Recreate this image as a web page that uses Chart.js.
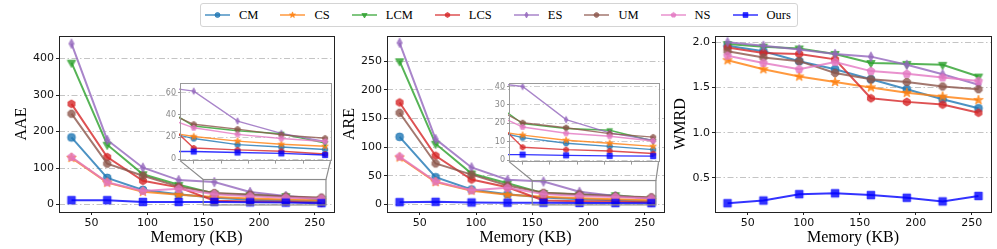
<!DOCTYPE html>
<html lang="en">
<head>
<meta charset="UTF-8">
<title>Error vs memory</title>
<script src="https://cdn.jsdelivr.net/npm/chart.js"></script>
<style>
    body { margin: 0; width: 997px; height: 249px; background: #fff; position: relative; overflow: hidden; }
    canvas.panel { position: absolute; }
    .legend {
        position: absolute; left: 200px; top: 3px; height: 24px; box-sizing: border-box;
        border: 1px solid #d4d4d4; border-radius: 3px; display: flex; align-items: center;
        padding: 0 6px 0 4px; font-family: "Liberation Serif", serif; font-size: 12.5px; color: #000;
    }
    .legend .item { display: flex; align-items: center; margin-right: 22px; }
    .legend .item:last-child { margin-right: 0; }
    .legend canvas { margin-right: 9px; }
</style>
</head>
<body>
<div class="legend" id="legend"></div>

<script>
// x values and tick labels
const memory = [32, 64, 96, 128, 160, 192, 224, 256];
const memoryTicks = [50, 100, 150, 200, 250];
const aaeTicks = [0, 100, 200, 300, 400];
const areTicks = [0, 50, 100, 150, 200, 250];
const wmrdTicks = [0.5, 1.0, 1.5, 2.0];
const insetAaeTicks = [0, 20, 40, 60];
const insetAreTicks = [0, 10, 20, 30, 40];
const insetXTicks = [160, 180, 200, 220, 240, 260];

const seriesNames = ['CM', 'CS', 'LCM', 'LCS', 'ES', 'UM', 'NS', 'Ours'];
const seriesColors = ['#1f77b4', '#ff7f0e', '#2ca02c', '#d62728', '#9467bd', '#8c564b', '#e377c2', '#0000ff'];
const seriesMarkers = ['circle', 'star', 'triDown', 'hexagon', 'thinDiamond', 'octagon', 'pentagon', 'square'];

// AAE
const aaeCM   = [184, 73, 40, 28, 18.7, 13.2, 11.1, 8.8];
const aaeCS   = [128, 60, 35, 27, 20.5, 16.4, 13.5, 11.7];
const aaeLCM  = [389, 164, 83, 54, 30, 25.8, 23, 14.6];
const aaeLCS  = [276, 130, 65, 47, 10.2, 8.5, 7.3, 4.7];
const aaeES   = [441, 177, 101, 67, 61.5, 34.5, 23.4, 16.1];
const aaeUM   = [249, 112, 79, 49, 31.6, 27.2, 22, 19];
const aaeNS   = [130, 61, 37, 43, 28.4, 22.5, 18.7, 16];
const aaeOurs = [12, 12, 7, 7, 7, 6.1, 5.3, 3.8];

// ARE
const areCM   = [118, 47.5, 26, 17.7, 12.2, 9.2, 7.5, 5.7];
const areCS   = [82, 39, 24, 17, 13.6, 10.8, 9.2, 7.5];
const areLCM  = [250, 106, 54, 37, 19.8, 17.2, 16.2, 10.4];
const areLCS  = [178, 85, 43.5, 30, 7, 5.7, 5, 3.6];
const areES   = [282, 114, 64.6, 43, 40, 22, 14.8, 10.8];
const areUM   = [160, 71.5, 52, 33, 20.3, 17.6, 14.4, 12.5];
const areNS   = [83.5, 40, 24.6, 29, 18, 14.6, 13, 10.4];
const areOurs = [4, 4.5, 3.4, 3, 3, 2.6, 2.3, 2.2];

// WMRD
const wmrdCM   = [1.96, 1.90, 1.79, 1.70, 1.59, 1.48, 1.37, 1.27];
const wmrdCS   = [1.80, 1.70, 1.62, 1.56, 1.50, 1.44, 1.40, 1.36];
const wmrdLCM  = [1.98, 1.95, 1.93, 1.87, 1.77, 1.76, 1.75, 1.62];
const wmrdLCS  = [1.94, 1.88, 1.87, 1.81, 1.38, 1.34, 1.31, 1.22];
const wmrdES   = [2.00, 1.96, 1.92, 1.87, 1.84, 1.75, 1.645, 1.53];
const wmrdUM   = [1.90, 1.83, 1.79, 1.66, 1.59, 1.56, 1.51, 1.48];
const wmrdNS   = [1.85, 1.77, 1.70, 1.78, 1.68, 1.65, 1.61, 1.57];
const wmrdOurs = [0.22, 0.25, 0.32, 0.33, 0.31, 0.28, 0.24, 0.30];

const tickFont = { family: 'DejaVu Sans', size: 11 };
const insetTickFont = { family: 'DejaVu Sans', size: 8 };
const titleFont = { family: 'Liberation Serif', size: 16, lineHeight: 1 };
const gridDash = [6, 2.5, 1.5, 2.5];

function rgba(hex, a) {
    const n = parseInt(hex.slice(1), 16);
    return 'rgba(' + (n >> 16) + ',' + ((n >> 8) & 255) + ',' + (n & 255) + ',' + a + ')';
}

function markerPath(ctx, shape, cx, cy, s) {
    const r = s / 2;
    const poly = (n, rot, rr) => {
        for (let k = 0; k < n; k++) {
            const t = rot + k * 2 * Math.PI / n;
            const px = cx + rr * Math.cos(t), py = cy + rr * Math.sin(t);
            if (k) ctx.lineTo(px, py); else ctx.moveTo(px, py);
        }
        ctx.closePath();
    };
    ctx.beginPath();
    switch (shape) {
        case 'circle': ctx.arc(cx, cy, r, 0, 2 * Math.PI); break;
        case 'square': ctx.rect(cx - r * 0.95, cy - r * 0.95, r * 1.9, r * 1.9); break;
        case 'triDown': poly(3, Math.PI / 2, r * 1.2); break;
        case 'hexagon': poly(6, -Math.PI / 2, r); break;
        case 'octagon': poly(8, Math.PI / 8, r); break;
        case 'pentagon': poly(5, -Math.PI / 2, r * 1.05); break;
        case 'thinDiamond':
            ctx.moveTo(cx, cy - r * 1.2); ctx.lineTo(cx + r * 0.65, cy);
            ctx.lineTo(cx, cy + r * 1.2); ctx.lineTo(cx - r * 0.65, cy); ctx.closePath();
            break;
        case 'star':
            for (let k = 0; k < 10; k++) {
                const t = -Math.PI / 2 + k * Math.PI / 5;
                const rr = k % 2 ? r * 0.5 : r * 1.25;
                const px = cx + rr * Math.cos(t), py = cy + rr * Math.sin(t);
                if (k) ctx.lineTo(px, py); else ctx.moveTo(px, py);
            }
            ctx.closePath();
            break;
    }
}

function drawMarker(ctx, shape, color, cx, cy, s) {
    markerPath(ctx, shape, cx, cy, s);
    ctx.fillStyle = rgba(color, 0.8);
    ctx.fill();
    ctx.lineWidth = 0.8;
    ctx.strokeStyle = rgba(color, 0.85);
    ctx.stroke();
}

function markerCanvas(shape, color, s) {
    const c = document.createElement('canvas');
    const w = Math.ceil(s * 1.4) + 2;
    c.width = w; c.height = w;
    drawMarker(c.getContext('2d'), shape, color, w / 2, w / 2, s);
    return c;
}

// legend
const legendEl = document.getElementById('legend');
seriesNames.forEach((name, i) => {
    const item = document.createElement('div');
    item.className = 'item';
    const h = document.createElement('canvas');
    h.width = 25; h.height = 12;
    const hc = h.getContext('2d');
    hc.strokeStyle = rgba(seriesColors[i], 0.8);
    hc.lineWidth = 1.5;
    hc.beginPath(); hc.moveTo(0, 6); hc.lineTo(25, 6); hc.stroke();
    drawMarker(hc, seriesMarkers[i], seriesColors[i], 12.5, 6, 5);
    const t = document.createElement('span');
    t.textContent = name;
    item.appendChild(h); item.appendChild(t);
    legendEl.appendChild(item);
});

function zeroPad(s) { s.paddingTop = 0; s.paddingBottom = 0; s.paddingLeft = 0; s.paddingRight = 0; }

function makeDatasets(values, inset) {
    return seriesNames.map((name, i) => ({
        label: name,
        data: memory.map((m, j) => ({ x: m, y: values[i][j] })),
        borderColor: rgba(seriesColors[i], 0.8),
        backgroundColor: rgba(seriesColors[i], 0.8),
        borderWidth: inset ? 1.4 : 2,
        pointStyle: markerCanvas(seriesMarkers[i], seriesColors[i], inset ? 5.5 : 8),
        pointRadius: 4,
        tension: 0,
        fill: false,
        order: seriesNames.length - i,
        clip: inset ? 1 : 6
    }));
}

function framePlugin(color, fillArea) {
    return {
        id: 'frame',
        beforeDraw(chart) {
            if (fillArea) {
                const a = chart.chartArea;
                chart.ctx.save();
                chart.ctx.fillStyle = '#fff';
                chart.ctx.fillRect(a.left, a.top, a.right - a.left, a.bottom - a.top);
                chart.ctx.restore();
            }
        },
        afterDraw(chart) {
            const a = chart.chartArea, ctx = chart.ctx;
            ctx.save();
            ctx.strokeStyle = color;
            ctx.lineWidth = 1;
            ctx.strokeRect(Math.round(a.left) + 0.5, Math.round(a.top) + 0.5,
                Math.round(a.right - a.left), Math.round(a.bottom - a.top));
            ctx.restore();
        }
    };
}

function insetMarkPlugin(inset, dx, dy) {
    return {
        id: 'insetMark',
        afterDraw(chart) {
            const xs = chart.scales.x, ys = chart.scales.y;
            const ix = inset.scales.x, iy = inset.scales.y, ia = inset.chartArea;
            const x0 = xs.getPixelForValue(ix.min), x1 = xs.getPixelForValue(ix.max);
            const y0 = ys.getPixelForValue(iy.max), y1 = ys.getPixelForValue(iy.min);
            const ctx = chart.ctx;
            ctx.save();
            ctx.strokeStyle = '#8c8c8c';
            ctx.lineWidth = 1.2;
            ctx.strokeRect(x0, y0, x1 - x0, y1 - y0);
            ctx.beginPath();
            ctx.moveTo(ia.left + dx, ia.bottom + dy); ctx.lineTo(x0, y0);
            ctx.moveTo(ia.right + dx, ia.bottom + dy); ctx.lineTo(x1, y0);
            ctx.stroke();
            ctx.restore();
        }
    };
}

function placeCanvas(left, top, w, h) {
    const c = document.createElement('canvas');
    c.className = 'panel';
    c.width = w; c.height = h;
    c.style.left = left + 'px'; c.style.top = top + 'px';
    c.style.width = w + 'px'; c.style.height = h + 'px';
    document.body.appendChild(c);
    return c;
}

const panels = [
    { title: 'AAE', values: [aaeCM, aaeCS, aaeLCM, aaeLCS, aaeES, aaeUM, aaeNS, aaeOurs],
      left: 0, width: 340, yWidth: 59, padRight: 6, titlePad: 13.5, yMin: -20.5, yMax: 462, yTicks: aaeTicks,
      inset: { left: 158, top: 78, width: 178, height: 88, yMin: -1.2, yMax: 68.5, yTicks: insetAaeTicks } },
    { title: 'ARE', values: [areCM, areCS, areLCM, areLCS, areES, areUM, areNS, areOurs],
      left: 330, width: 340, yWidth: 57, padRight: 6, titlePad: 11.5, yMin: -13.2, yMax: 294, yTicks: areTicks,
      inset: { left: 487, top: 78, width: 177, height: 89, yMin: -0.8, yMax: 41.7, yTicks: insetAreTicks } },
    { title: 'WMRD', values: [wmrdCM, wmrdCS, wmrdLCM, wmrdLCS, wmrdES, wmrdUM, wmrdNS, wmrdOurs],
      left: 660, width: 337, yWidth: 55, padRight: 4, titlePad: 12.5, yMin: 0.123, yMax: 2.068, yTicks: wmrdTicks,
      fmt: v => v.toFixed(1) }
];

const mainTop = 30, mainHeight = 219;

panels.forEach(p => {
    const mainCanvas = placeCanvas(p.left, mainTop, p.width, mainHeight);
    let insetChart = null;
    if (p.inset) {
        const q = p.inset;
        const ic = placeCanvas(q.left, q.top, q.width, q.height);
        insetChart = new Chart(ic.getContext('2d'), {
            type: 'line',
            data: { datasets: makeDatasets(p.values, true) },
            options: {
                responsive: false, animation: false, events: [], devicePixelRatio: 1,
                layout: { padding: { top: 4, right: 3, left: 0, bottom: 0 } },
                plugins: { legend: { display: false }, tooltip: { enabled: false } },
                scales: {
                    x: {
                        type: 'linear', min: 150, max: 260,
                        afterBuildTicks: s => { s.ticks = insetXTicks.map(v => ({ value: v })); },
                        afterFit: s => { s.height = 5; zeroPad(s); },
                        grid: { drawOnChartArea: false, drawTicks: true, tickLength: 3, tickColor: '#999' },
                        border: { display: false },
                        ticks: { display: false }
                    },
                    y: {
                        type: 'linear', min: q.yMin, max: q.yMax,
                        afterBuildTicks: s => { s.ticks = q.yTicks.map(v => ({ value: v })); },
                        afterFit: s => { s.width = 22; zeroPad(s); },
                        grid: { color: '#cfcfcf', lineWidth: 1, tickLength: 2, tickColor: '#999', tickBorderDash: [] },
                        border: { display: false, dash: gridDash },
                        ticks: { font: insetTickFont, color: '#888', padding: 2 }
                    }
                }
            },
            plugins: [framePlugin('#999', true)]
        });
    }

    const plugins = [framePlugin('#222', false)];
    if (insetChart) plugins.push(insetMarkPlugin(insetChart, p.inset.left - p.left, p.inset.top - mainTop));

    new Chart(mainCanvas.getContext('2d'), {
        type: 'line',
        data: { datasets: makeDatasets(p.values, false) },
        options: {
            responsive: false, animation: false, events: [], devicePixelRatio: 1,
            layout: { padding: { top: 2, right: p.padRight, left: 0, bottom: 0 } },
            plugins: { legend: { display: false }, tooltip: { enabled: false } },
            scales: {
                x: {
                    type: 'linear', min: 20.8, max: 267.2,
                    afterBuildTicks: s => { s.ticks = memoryTicks.map(v => ({ value: v })); },
                    afterFit: s => { s.height = 37; zeroPad(s); },
                    grid: { drawOnChartArea: false, drawTicks: true, tickLength: 3, tickColor: '#222' },
                    border: { display: false },
                    ticks: { font: tickFont, color: '#111', padding: 2, maxRotation: 0 },
                    title: { display: true, text: 'Memory (KB)', font: titleFont, color: '#000', padding: { top: 0, bottom: 3 } }
                },
                y: {
                    type: 'linear', min: p.yMin, max: p.yMax,
                    afterBuildTicks: s => { s.ticks = p.yTicks.map(v => ({ value: v })); },
                    afterFit: s => { s.width = p.yWidth; zeroPad(s); },
                    grid: { color: '#c4c4c4', lineWidth: 1, tickLength: 3, tickColor: '#222', tickBorderDash: [] },
                    border: { display: false, dash: gridDash },
                    ticks: { font: tickFont, color: '#111', padding: 2, callback: p.fmt || (v => String(v)) },
                    title: { display: true, text: p.title, font: titleFont, color: '#000', padding: { top: p.titlePad, bottom: 0 } }
                }
            }
        },
        plugins: plugins
    });
});
</script>
</body>
</html>
